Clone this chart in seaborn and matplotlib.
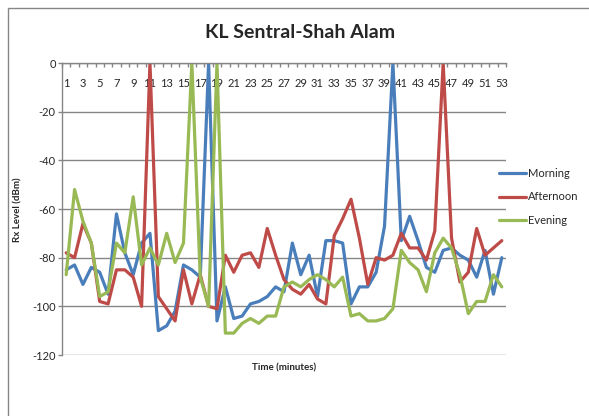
import matplotlib
matplotlib.use("Agg")
import matplotlib.pyplot as plt
import seaborn as sns
import pandas as pd
import numpy as np
from matplotlib.patches import Rectangle

# ---- data ----
minutes = list(range(1, 54))
morning = [-85, -83, -91, -84, -86, -95, -62, -78, -87, -74,
           -70, -110, -108, -102, -83, -85, -88, 0, -106, -92,
           -105, -104, -99, -98, -96, -92, -94, -74, -87, -79,
           -96, -73, -73, -74, -99, -92, -92, -86, -67, 0,
           -73, -63, -73, -84, -86, -77, -76, -79, -81, -88,
           -77, -95, -80]
afternoon = [-78, -80, -66, -74, -98, -99, -85, -85, -88, -100,
             0, -96, -101, -106, -85, -99, -87, -100, -101, -79,
             -86, -79, -78, -84, -68, -79, -89, -93, -95, -91,
             -97, -99, -71, -64, -56, -72, -91, -80, -81, -79,
             -70, -76, -76, -81, -69, 0, -72, -90, -86, -68,
             -79, -76, -73]
evening = [-87, -52, -65, -74, -96, -94, -74, -78, -55, -83,
           -76, -83, -70, -82, -74, 0, -88, -100, 0, -111,
           -111, -107, -105, -107, -104, -104, -92, -90, -92, -89,
           -87, -89, -92, -88, -104, -103, -106, -106, -105, -101,
           -77, -82, -85, -94, -78, -72, -76, -87, -103, -98,
           -98, -87, -92]
series_names = ["Morning", "Afternoon", "Evening"]
y_ticks = [-120, -100, -80, -60, -40, -20, 0]
x_tick_labels = [str(m) for m in minutes[::2]]
title = "KL Sentral-Shah Alam"
x_title = "Time (minutes)"
y_title = "Rx Level (dBm)"

colors = ["#4A7EBB", "#BE4B48", "#98B954"]
grey = "#868686"

df = pd.concat([
    pd.DataFrame({"Minute": minutes, "Level": vals, "Period": name})
    for name, vals in zip(series_names, [morning, afternoon, evening])
], ignore_index=True)

sns.set_style("white")
plt.rcParams['font.family'] = ['Lato', 'DejaVu Sans']

fig = plt.figure(figsize=(5.89, 4.16), dpi=100)
L, R, T, B = 62, 506, 63, 355
W, H = 589, 416
ax = fig.add_axes([L / W, 1 - B / H, (R - L) / W, (B - T) / H])

sns.lineplot(data=df, x="Minute", y="Level", hue="Period", hue_order=series_names,
             palette=colors, lw=2.3, ax=ax, legend=False, sort=False,
             solid_joinstyle="round", solid_capstyle="round")

ax.set_xlim(0.5, 53.5)
ax.set_ylim(-120, 0)
ax.set_yticks(y_ticks)
ax.set_yticklabels([str(v) for v in y_ticks])
ax.yaxis.grid(True, color=grey, lw=1)
ax.xaxis.grid(False)
ax.set_axisbelow(True)

ax.xaxis.tick_top()
ax.set_xticks(minutes[::2])
ax.set_xticklabels(x_tick_labels)
ax.set_xticks(np.arange(0.5, 54, 1), minor=True)
ax.tick_params(axis='x', which='major', length=0, pad=-19, labelsize=8,
               top=True, bottom=False, labeltop=True, labelbottom=False)
ax.tick_params(axis='x', which='minor', direction='in', length=3, width=1,
               color=grey, top=True, bottom=False)
ax.tick_params(axis='y', which='major', direction='out', length=3, width=1,
               color=grey, labelsize=8, pad=1.5, left=True)
ax.set_xlabel("")
ax.set_ylabel("")

for s in ["right", "bottom"]:
    ax.spines[s].set_visible(False)
for s in ["left", "top"]:
    ax.spines[s].set_color(grey)
    ax.spines[s].set_linewidth(1)

fig.text(300 / W, 1 - 33 / H, title, ha='center', va='center',
         fontsize=14, fontweight='bold')
fig.text(284 / W, 1 - 368 / H, x_title, ha='center', va='center',
         fontsize=7, fontweight='bold')
fig.text(18 / W, 1 - 210 / H, y_title, ha='center', va='center',
         fontsize=7, fontweight='bold', rotation=90)

handles = ax.get_lines()[:3]
fig.legend(handles, series_names, loc='center left',
           bbox_to_anchor=(499 / W, 1 - 197 / H), frameon=False, fontsize=8,
           handlelength=2.4, handletextpad=0.25, labelspacing=1.15,
           borderaxespad=0, borderpad=0)

fig.patches.append(Rectangle((8 / W, -0.1), 1.2, 1 - 8 / H + 0.1,
                             transform=fig.transFigure, fill=False,
                             edgecolor=grey, lw=1))

fig.savefig("out.png", dpi=100)
